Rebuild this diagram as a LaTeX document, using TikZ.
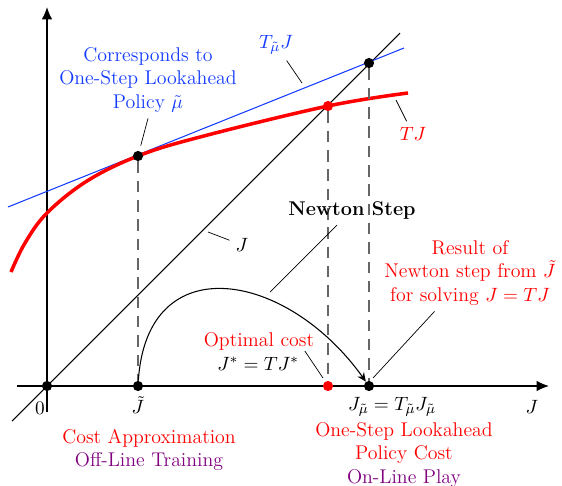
\documentclass[tikz,border=0pt]{standalone}
\usepackage{amssymb,amsmath}
\usepackage{color}
\usepackage{tikz}
\usetikzlibrary{arrows.meta}
\definecolor{linkblue}{RGB}{20,60,255}
\definecolor{playpurple}{RGB}{128,0,128}

\begin{document}
\begin{tikzpicture}[x=0.02cm, y=0.02cm, font=\fontsize{11.3}{13.2}\selectfont,
		dot/.style={circle, fill=black, inner sep=0pt, minimum size=5.8pt},
		reddot/.style={dot, fill=red},
		guide/.style={black!60, semithick, dash pattern=on 6.5pt off 4.5pt},
		leader/.style={thin}]
		\useasboundingbox (-47,-99) rectangle (515,386);
		% axes
		\coordinate (xstart) at (-30,0);
		\coordinate (xend) at (502,0);
		\coordinate (ystart) at (0,-26);
		\coordinate (yend) at (0,379);
		\draw[-{Latex[length=7pt,width=6pt]}, thick] (xstart) -- (xend);
		\draw[-{Latex[length=7pt,width=6pt]}, thick] (ystart) -- (yend);
		% the 45 degree line J
		\coordinate (jlo) at (-35,-35);
		\coordinate (jhi) at (353,353);
		\draw[semithick] (jlo) -- (jhi);
		% linearization T_mu J
		\coordinate (tlo) at (-39,179);
		\coordinate (thi) at (357,338);
		\draw[linkblue, semithick] (tlo) -- (thi);
		% the curve TJ
		\draw[red, line width=2pt] plot[smooth, tension=0.6] coordinates
			{(-36,114) (-22,143) (0,173) (40,205) (91,230) (153,249) (281,280) (361,293)};
		% points
		\node[dot] (O) at (0,0) {};
		\node[dot] (Jt) at (91,0) {};
		\node[dot] (Jtop) at (91,230) {};
		\node[reddot] (Jstar) at (281,0) {};
		\node[reddot] (Jstartop) at (281,280) {};
		\node[dot] (Jmu) at (322,0) {};
		\node[dot] (Jmutop) at (322,323) {};
		% dashed guides
		\draw[guide] (Jtop) -- (Jt);
		\draw[guide] (Jstartop) -- (Jstar);
		\draw[guide] (Jmutop) -- (Jmu);
		% Newton step
		\draw[-{Stealth[length=5pt,width=4.5pt]}, semithick] (Jt) .. controls (100,140) and (240,115) .. (Jmu);
		% axis labels
		\node (zero) at (-7,-22) {$0$};
		\node (Jtlbl) at (91,-19) {$\tilde J$};
		\node (Jmulbl) at (345,-21) {$J_{\tilde\mu}=T_{\tilde\mu}J_{\tilde\mu}$};
		\node (Jaxis) at (485,-21) {$J$};
		% curve labels
		\node[linkblue, align=center] (corr) at (101,306) {Corresponds to\\One-Step Lookahead\\Policy $\tilde\mu$};
		\draw[leader, shorten >=3pt] (corr.south) -- (Jtop);
		\node[linkblue] (tmuJ) at (229,341) {$T_{\tilde\mu}J$};
		\coordinate (tmuJpt) at (255,303);
		\draw[leader] (tmuJ) -- (tmuJpt);
		\node[red] (TJ) at (366,252) {$TJ$};
		\coordinate (TJpt) at (349,286);
		\draw[leader] (TJ) -- (TJpt);
		\node (Jline) at (195,141) {$J$};
		\coordinate (Jlinept) at (161,154);
		\draw[leader] (Jline) -- (Jlinept);
		\node (newton) at (305,176) {\textbf{Newton Step}};
		\coordinate (newtonpt) at (223,94);
		\draw[leader] (newton) -- (newtonpt);
		\node[red] (optimal) at (212,45) {Optimal cost};
		\node (optstar) at (211,22) {$J^*=TJ^*$};
		\coordinate (optimalpt) at (276,8);
		\draw[leader] (optstar.north east) -- (optimalpt);
		\node[red, align=center] (result) at (423,113) {Result of\\Newton step from $\tilde J$\\for solving $J=TJ$};
		\coordinate (resultpt) at (326,8);
		\draw[leader] (result) -- (resultpt);
		% bottom labels
		\node[align=center] (offline) at (102,-64) {\textcolor{red}{Cost Approximation}\\\textcolor{playpurple}{Off-Line Training}};
		\node[align=center] (online) at (357,-69) {\textcolor{red}{One-Step Lookahead}\\\textcolor{red}{Policy Cost}\\\textcolor{playpurple}{On-Line Play}};
	\end{tikzpicture}
\end{document}
